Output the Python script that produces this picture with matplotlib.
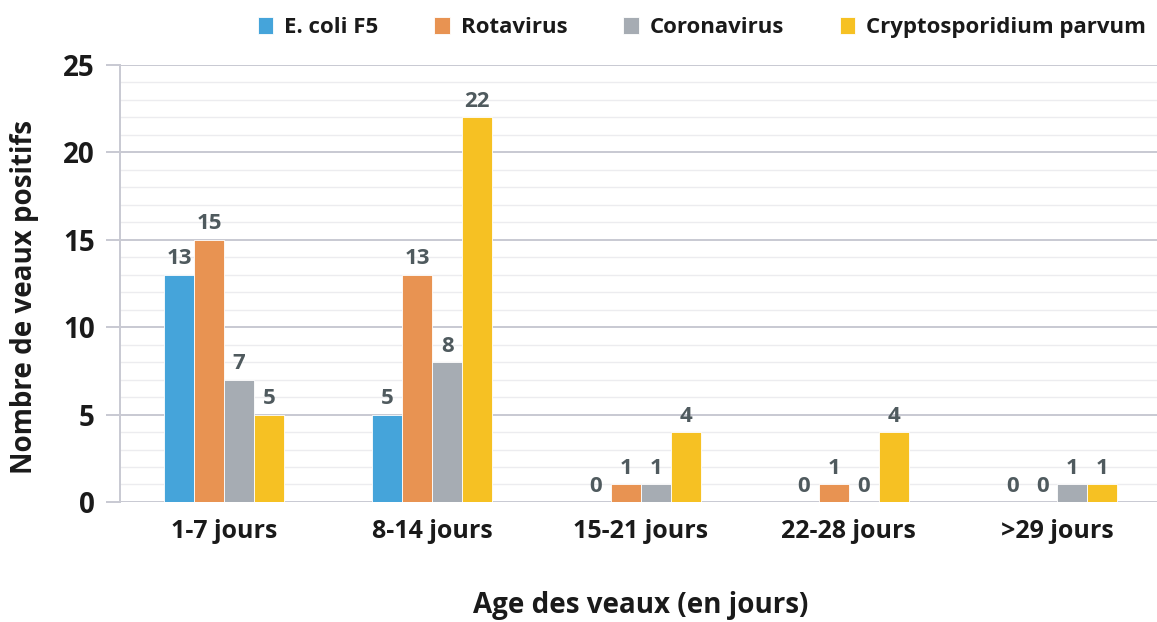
import numpy as np
import matplotlib
matplotlib.use("Agg")
import matplotlib.pyplot as plt
from matplotlib.ticker import MultipleLocator

# --- Data ---
categories = ["1-7 jours", "8-14 jours", "15-21 jours", "22-28 jours", ">29 jours"]
series_names = ["E. coli F5", "Rotavirus", "Coronavirus", "Cryptosporidium parvum"]
ecoli = [13, 5, 0, 0, 0]
rotavirus = [15, 13, 1, 1, 0]
coronavirus = [7, 8, 1, 0, 1]
crypto = [5, 22, 4, 4, 1]
series_values = [ecoli, rotavirus, coronavirus, crypto]
colors = ["#45a4da", "#e89352", "#a6acb3", "#f6c123"]

plt.rcParams['font.family'] = ['Open Sans', 'DejaVu Sans']
plt.rcParams['font.weight'] = 'bold'

fig = plt.figure(figsize=(11.57, 6.22), dpi=100)
ax = fig.add_axes([0.1037, 0.193, 0.9, 0.7026])

x = np.arange(len(categories))
bw = 0.144
for i, (name, vals, col) in enumerate(zip(series_names, series_values, colors)):
    pos = x + (i - 1.5) * bw
    ax.bar(pos, vals, width=bw, color=col, label=name, zorder=3,
           edgecolor="white", linewidth=0.6)
    for px, v in zip(pos, vals):
        ax.text(px, v + 0.3, str(v), ha="center", va="bottom",
                fontsize=16, fontweight="bold", color="#4f5a5e", zorder=4)

ax.set_xlim(-0.5, 4.5)
ax.set_ylim(0, 25)
ax.yaxis.set_major_locator(MultipleLocator(5))
ax.yaxis.set_minor_locator(MultipleLocator(1))
ax.grid(axis="y", which="major", color="#c8c9d2", linewidth=1.4, zorder=0)
ax.grid(axis="y", which="minor", color="#ececef", linewidth=1.0, zorder=0)

for s in ["top", "right", "bottom"]:
    ax.spines[s].set_visible(False)
ax.spines["left"].set_color("#c8c9d2")
ax.spines["left"].set_linewidth(1.4)

ax.tick_params(axis="y", which="major", length=10, width=1.4, color="#c8c9d2",
               labelsize=20, labelcolor="#1a1a1a", pad=8)
ax.tick_params(axis="y", which="minor", length=0)
ax.tick_params(axis="x", length=0, labelsize=18, labelcolor="#1a1a1a", pad=12)
ax.set_xticks(x)
ax.set_xticklabels(categories, fontweight="bold")
for lab in ax.get_yticklabels():
    lab.set_fontweight("bold")

ax.set_xlabel("Age des veaux (en jours)", fontsize=20, fontweight="bold",
              color="#1a1a1a", labelpad=34)
ax.set_ylabel("Nombre de veaux positifs", fontsize=20, fontweight="bold",
              color="#1a1a1a")
ax.yaxis.set_label_coords(-0.078, 0.47)

leg = fig.legend(loc="upper right", bbox_to_anchor=(1.008, 1.005), ncol=4,
                 frameon=False, fontsize=16, handlelength=0.7, handleheight=0.8,
                 handletextpad=0.5, columnspacing=2.5)
for t in leg.get_texts():
    t.set_fontweight("bold")
    t.set_color("#1a1a1a")

fig.savefig("out.png", dpi=100)
